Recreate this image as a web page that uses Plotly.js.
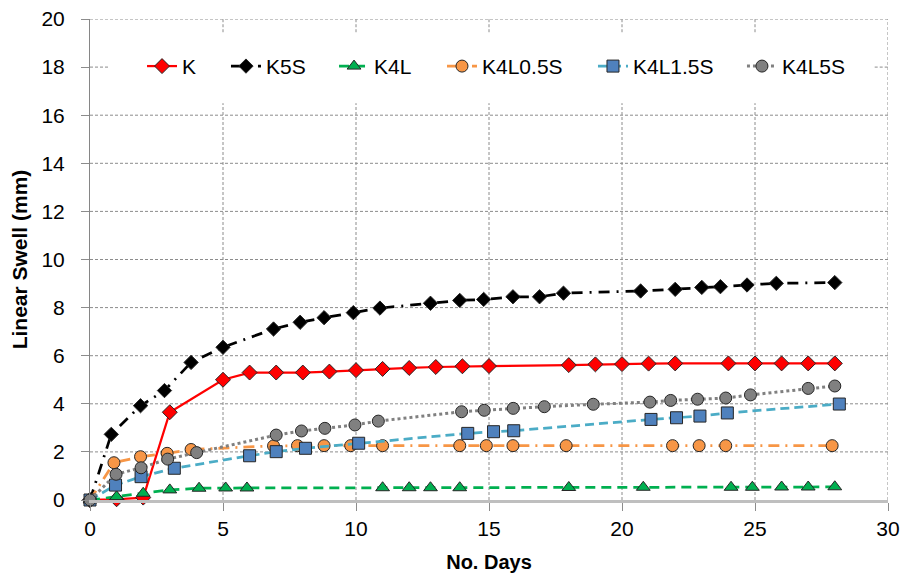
<!DOCTYPE html>
<html>
<head>
<meta charset="utf-8">
<script src="https://cdn.plot.ly/plotly-3.0.1.min.js"></script>
<style>html,body{margin:0;padding:0;background:#fff;}#chart{width:903px;height:574px;}</style>
</head>
<body>
<div id="chart"></div>
<script>
// ---- data ----
const seriesNames = ["K", "K5S", "K4L", "K4L0.5S", "K4L1.5S", "K4L5S"];

const kDays  = [0, 1, 2, 3, 5, 6, 7, 8, 9, 10, 11, 12, 13, 14, 15, 18, 19, 20, 21, 22, 24, 25, 26, 27, 28];
const kSwell = [0, 0.03, 0.1, 3.65, 5.0, 5.3, 5.3, 5.3, 5.34, 5.4, 5.45, 5.49, 5.53, 5.56, 5.57, 5.61, 5.64, 5.65, 5.67, 5.68, 5.68, 5.68, 5.68, 5.68, 5.68];

const k5sDays  = [0, 0.8, 1.9, 2.8, 3.8, 5, 6.9, 7.9, 8.8, 9.9, 10.9, 12.8, 13.9, 14.8, 15.9, 16.9, 17.8, 20.7, 22, 23, 23.7, 24.7, 25.8, 28];
const k5sSwell = [0, 2.73, 3.92, 4.55, 5.72, 6.35, 7.11, 7.39, 7.58, 7.79, 7.98, 8.18, 8.3, 8.34, 8.45, 8.45, 8.6, 8.69, 8.76, 8.84, 8.87, 8.94, 9.01, 9.04];

const k4lDays  = [0, 1, 2, 3, 4.1, 5.1, 5.9, 11, 12, 12.8, 13.9, 18, 20.8, 24.1, 24.9, 26, 27, 28];
const k4lSwell = [0, 0.14, 0.28, 0.42, 0.49, 0.5, 0.5, 0.51, 0.51, 0.51, 0.51, 0.52, 0.53, 0.53, 0.53, 0.54, 0.54, 0.55];

const k4l05Days  = [0, 0.9, 1.9, 2.9, 3.8, 6.9, 7.8, 8.8, 9.8, 11, 13.9, 14.9, 15.9, 17.9, 21.9, 22.9, 23.9, 27.9];
const k4l05Swell = [0, 1.55, 1.8, 1.94, 2.1, 2.25, 2.26, 2.26, 2.26, 2.26, 2.26, 2.26, 2.26, 2.26, 2.26, 2.26, 2.26, 2.26];

const k4l15Days  = [0, 0.96, 1.92, 3.17, 6.0, 7.0, 8.1, 10.1, 14.2, 15.17, 15.93, 21.09, 22.05, 22.93, 23.96, 28.17];
const k4l15Swell = [0, 0.62, 0.97, 1.32, 1.84, 2.01, 2.15, 2.36, 2.77, 2.84, 2.88, 3.35, 3.42, 3.49, 3.62, 3.99];

const k4l5Days  = [0, 0.98, 1.92, 2.92, 4.01, 7.0, 7.95, 8.83, 9.96, 10.84, 13.97, 14.82, 15.91, 17.08, 18.92, 21.05, 21.83, 22.84, 23.9, 24.83, 27.0, 28.0];
const k4l5Swell = [0, 1.07, 1.34, 1.7, 1.97, 2.7, 2.87, 2.98, 3.12, 3.28, 3.67, 3.73, 3.81, 3.88, 3.98, 4.07, 4.14, 4.19, 4.24, 4.37, 4.64, 4.74];

const xTickVals = [0, 5, 10, 15, 20, 25, 30];
const yTickVals = [0, 2, 4, 6, 8, 10, 12, 14, 16, 18, 20];

const xTitle = "No. Days";
const yTitle = "Linear Swell (mm)";

// ---- styling ----
const FONT = "Liberation Sans, Arial, sans-serif";
const GRID = {color: "#8c8c8c", width: 1, dash: "3px,2px"};
const outline = {color: "#262626", width: 1};
const legendIds = ["legend", "legend2", "legend3", "legend4", "legend5", "legend6"];
const legendX = [0.0652, 0.1704, 0.3058, 0.4411, 0.6303, 0.8170];
// white legend box (in axis units) that hides the gridlines behind the legend
const legendBox = {x0: 0.68, x1: 29.5, y0: 16.5, y1: 19.45};

function tr(i, x, y, lineColor, dash, width, symbol, size, fill) {
  return {
    type: "scatter", mode: "lines+markers", name: seriesNames[i], x: x, y: y,
    legend: legendIds[i],
    cliponaxis: false,
    line: {color: lineColor, dash: dash, width: width},
    marker: {symbol: symbol, size: size, color: fill, line: outline}
  };
}

const traces = [
  tr(0, kDays, kSwell, "#ff0000", "solid", 2.25, "diamond", 11.5, "#ff0000"),
  tr(1, k5sDays, k5sSwell, "#000000", "11px,7px,2px,7px", 2.75, "diamond", 11, "#000000"),
  tr(2, k4lDays, k4lSwell, "#00b050", "10px,6px", 2.75, "triangle-up", 12, "#00b050"),
  tr(3, k4l05Days, k4l05Swell, "#f79646", "11px,6px,2px,6px", 2.75, "circle", 12, "#f79646"),
  tr(4, k4l15Days, k4l15Swell, "#4bacc6", "9px,5px", 2.75, "square", 12, "#4f81bd"),
  tr(5, k4l5Days, k4l5Swell, "#808080", "dot", 3, "circle", 12, "#808080")
];

// gridlines as shapes, interrupted where the legend box sits
const shapes = [];
const xMax = xTickVals[xTickVals.length - 1], yMax = yTickVals[yTickVals.length - 1];
function gline(x0, x1, y0, y1) {
  shapes.push({type: "line", layer: "below", xref: "x", yref: "y", x0: x0, x1: x1, y0: y0, y1: y1, line: GRID});
}
xTickVals.filter(function (v) { return v > 0; }).forEach(function (v) {
  if (v > legendBox.x0 && v < legendBox.x1) {
    gline(v, v, 0, legendBox.y0);
    gline(v, v, legendBox.y1, yMax);
  } else {
    gline(v, v, 0, yMax);
  }
});
yTickVals.filter(function (v) { return v > 0; }).forEach(function (v) {
  if (v > legendBox.y0 && v < legendBox.y1) {
    gline(0, legendBox.x0, v, v);
    gline(legendBox.x1, xMax, v, v);
  } else {
    gline(0, xMax, v, v);
  }
});

const layout = {
  width: 903, height: 574,
  margin: {l: 90, r: 15, t: 19, b: 74},
  paper_bgcolor: "#ffffff", plot_bgcolor: "#ffffff",
  font: {family: FONT, size: 21, color: "#000000"},
  showlegend: true,
  shapes: shapes,
  xaxis: {
    range: [0, 30], tickvals: xTickVals, ticktext: xTickVals.map(String),
    showgrid: false,
    showline: true, linecolor: "#bfbfbf", linewidth: 2.5,
    ticks: "outside", ticklen: 8, tickcolor: "#8c8c8c", tickwidth: 1,
    ticklabelstandoff: 0,
    zeroline: false,
    tickfont: {family: FONT, size: 21, color: "#000"},
    title: {text: xTitle, font: {family: FONT, size: 20, color: "#000", weight: "bold"}, standoff: 17}
  },
  yaxis: {
    range: [0, 20], tickvals: yTickVals, ticktext: yTickVals.map(String),
    showgrid: false,
    showline: true, linecolor: "#868686", linewidth: 1,
    ticks: "outside", ticklen: 8, tickcolor: "#8c8c8c", tickwidth: 1,
    ticklabelstandoff: 12,
    zeroline: false,
    tickfont: {family: FONT, size: 21, color: "#000"},
    title: {text: yTitle, font: {family: FONT, size: 21, color: "#000", weight: "bold"}, standoff: 8}
  }
};

legendIds.forEach(function (id, i) {
  layout[id] = {
    orientation: "h", x: legendX[i], xanchor: "left", y: 0.944, yanchor: "top",
    bgcolor: "rgba(255,255,255,0)", font: {family: FONT, size: 21, color: "#000000"},
    itemclick: false
  };
});

Plotly.newPlot("chart", traces, layout, {staticPlot: true, displayModeBar: false});
</script>
</body>
</html>
